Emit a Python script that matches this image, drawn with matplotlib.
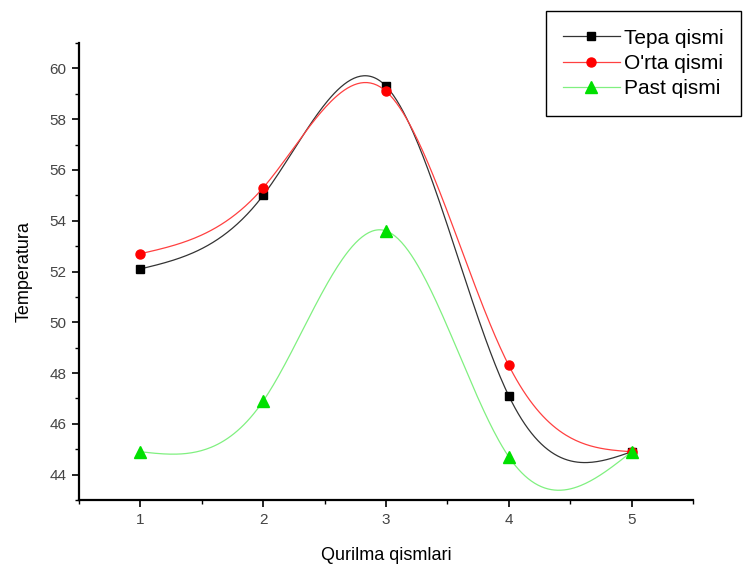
import numpy as np
import matplotlib.pyplot as plt

# data
x = [1, 2, 3, 4, 5]
tepa = [52.1, 55.0, 59.3, 47.1, 44.9]
orta = [52.7, 55.3, 59.1, 48.3, 44.9]
past = [44.9, 46.9, 53.6, 44.7, 44.9]
labels = ["Tepa qismi", "O'rta qismi", "Past qismi"]


def natural_spline(xs, ys, n=300):
    # plain natural cubic spline, no scipy here
    xs = np.asarray(xs, float)
    ys = np.asarray(ys, float)
    k = len(xs)
    h = np.diff(xs)
    A = np.zeros((k, k))
    b = np.zeros(k)
    A[0, 0] = 1
    A[-1, -1] = 1
    for i in range(1, k - 1):
        A[i, i - 1] = h[i - 1]
        A[i, i] = 2 * (h[i - 1] + h[i])
        A[i, i + 1] = h[i]
        b[i] = 6 * ((ys[i + 1] - ys[i]) / h[i] - (ys[i] - ys[i - 1]) / h[i - 1])
    m = np.linalg.solve(A, b)
    xx = np.linspace(xs[0], xs[-1], n)
    yy = np.zeros_like(xx)
    for j, t in enumerate(xx):
        i = min(np.searchsorted(xs, t, side='right') - 1, k - 2)
        a = xs[i + 1] - t
        c = t - xs[i]
        yy[j] = (m[i] * a ** 3 + m[i + 1] * c ** 3) / (6 * h[i]) \
            + (ys[i] / h[i] - m[i] * h[i] / 6) * a \
            + (ys[i + 1] / h[i] - m[i + 1] * h[i] / 6) * c
    return xx, yy


plt.rcParams['font.family'] = ['Liberation Sans', 'DejaVu Sans']

fig = plt.figure(figsize=(7.46, 5.66), dpi=100)
ax = fig.add_axes([79 / 746, 66 / 566, 614 / 746, 457 / 566])

series = [
    (tepa, '#333333', 's', 5.5, 'black'),
    (orta, '#ff4040', 'o', 6.5, 'red'),
    (past, '#80f080', '^', 8, '#00e000'),
]
handles = []
for (ys, lc, mk, ms, mc), lab in zip(series, labels):
    xx, yy = natural_spline(x, ys)
    ax.plot(xx, yy, color=lc, lw=0.9)
    ax.plot(x, ys, linestyle='none', marker=mk, markersize=ms, color=mc)
    h, = ax.plot([], [], color=lc, lw=0.9, marker=mk, markersize=ms,
                 markerfacecolor=mc, markeredgecolor=mc)
    handles.append(h)

ax.set_xlim(0.5, 5.5)
ax.set_ylim(43, 61)
ax.set_xticks(x)
ax.set_xticks([0.5, 1.5, 2.5, 3.5, 4.5, 5.5], minor=True)
ax.set_yticks(range(44, 61, 2))
ax.set_yticks(range(43, 62, 2), minor=True)

for s in ['top', 'right']:
    ax.spines[s].set_visible(False)
for s in ['left', 'bottom']:
    ax.spines[s].set_linewidth(1.6)

ax.tick_params(which='major', direction='out', length=5, width=1.2,
               labelsize=11, labelcolor='#444444', pad=4)
ax.tick_params(which='minor', direction='out', length=3, width=1.0)

ax.set_xlabel("Qurilma qismlari", fontsize=13)
ax.set_ylabel("Temperatura", fontsize=13)
ax.xaxis.set_label_coords(0.5, -0.103)
ax.yaxis.set_label_coords(-0.09, 0.5)
ax.yaxis.label.set_va('center')

leg = fig.legend(handles, labels, loc='upper right',
                 bbox_to_anchor=(741 / 746, 1 - 11 / 566), borderaxespad=0,
                 fancybox=False, framealpha=1, edgecolor='black', fontsize=15,
                 handlelength=2.7, labelspacing=0.3, borderpad=0.85,
                 handletextpad=0.2)
leg.get_frame().set_linewidth(1.0)

fig.savefig("out.png", dpi=100)
